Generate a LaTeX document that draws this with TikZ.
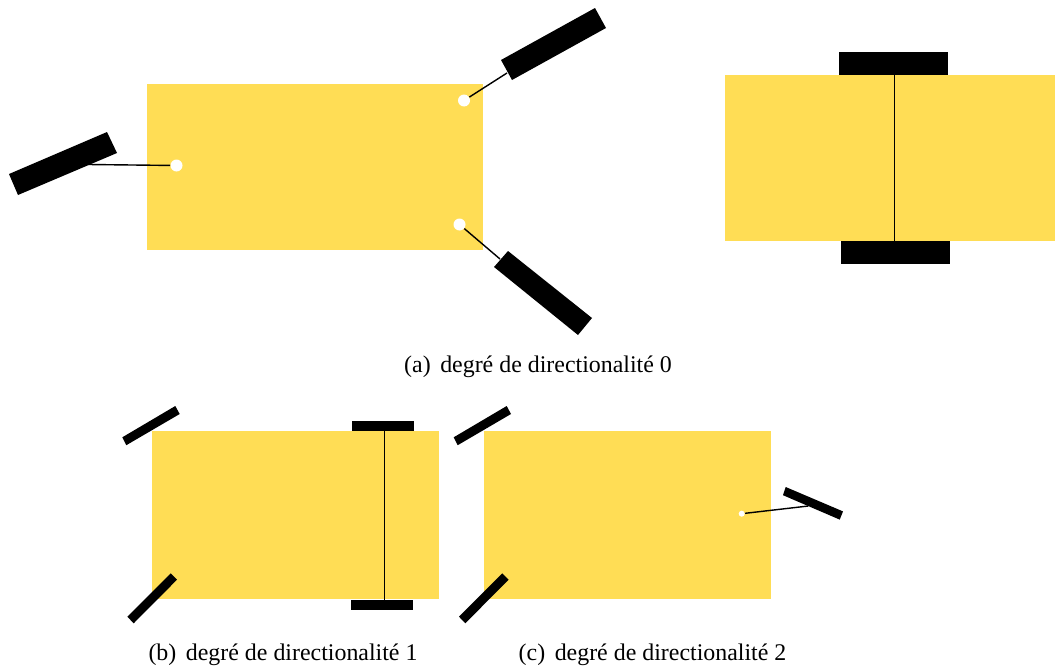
\documentclass[tikz,border=0pt]{standalone}
\usepackage{fontspec}
\setmainfont{Liberation Serif}
\definecolor{bodyyellow}{HTML}{FFDD55}
\tikzset{
body/.style={fill=bodyyellow},
wheel/.style={fill=black},
axle/.style={draw=black, line width=0.8pt},
pivot/.style={circle, fill=white, inner sep=0pt, minimum size=#1},
pivot/.default=0.24cm,
legend/.style={anchor=base, inner sep=0pt, font=\fontsize{13.6}{16}\selectfont}
}
\begin{document}
\begin{tikzpicture}[x=0.02cm, y=-0.02cm]
\useasboundingbox (0,0) rectangle (1055,666);
% (a) left
\fill[body] (147,84) rectangle (483,250);
\node[pivot] (p1) at (176.5,165.5) {};
\node[pivot] (p2) at (464,100.5) {};
\node[pivot] (p3) at (459.5,224.5) {};
\coordinate (h1) at (88,164.5);
\coordinate (h2) at (507,73);
\coordinate (h3) at (500,259);
\draw[axle] (p1) -- (h1);
\draw[axle] (p2) -- (h2);
\draw[axle] (p3) -- (h3);
\fill[wheel] (9,174) -- (107,132) -- (117,153) -- (18,195) -- cycle;
\fill[wheel] (501,60) -- (595,8) -- (606,28) -- (512,80) -- cycle;
\fill[wheel] (508,251) -- (592,318) -- (578,335) -- (494,267) -- cycle;
% (a) right
\fill[wheel] (839,52) rectangle (948,75);
\fill[wheel] (841,241) rectangle (950,264);
\fill[body] (725,75) rectangle (1055,241);
\coordinate (t1) at (894.5,75);
\coordinate (b1) at (894.5,241);
\draw[axle] (t1) -- (b1);
\node[legend] (capa) at (538,372) {(a)\hspace{0.4em}degré de directionalité 0};
% (b)
\fill[body] (152,431) rectangle (439,599);
\fill[wheel] (352,421) rectangle (414,431);
\fill[wheel] (351,600) rectangle (413,610);
\coordinate (t2) at (384.3,431);
\coordinate (b2) at (384.3,600);
\draw[axle] (t2) -- (b2);
\fill[wheel] (122.3,437.3) -- (175.3,406) -- (179.7,414) -- (126.3,445.2) -- cycle;
\fill[wheel] (127.3,616.7) -- (170.7,573.3) -- (177,579.7) -- (133.7,623.3) -- cycle;
\node[legend] (capb) at (283,660) {(b)\hspace{0.4em}degré de directionalité 1};
% (c)
\fill[body] (484,431) rectangle (771,599);
\node[pivot=0.12cm] (p4) at (741.7,513.7) {};
\coordinate (h4) at (808.3,506);
\draw[axle] (p4) -- (h4);
\fill[wheel] (453.7,437.3) -- (506.7,406) -- (511,414) -- (457.7,445.2) -- cycle;
\fill[wheel] (459,616.7) -- (502.3,573.3) -- (508.6,579.7) -- (465.3,623.3) -- cycle;
\fill[wheel] (785.7,487) -- (843,511.4) -- (839.7,519.6) -- (783,495.2) -- cycle;
\node[legend] (capc) at (652.5,660) {(c)\hspace{0.4em}degré de directionalité 2};
\end{tikzpicture}
\end{document}
